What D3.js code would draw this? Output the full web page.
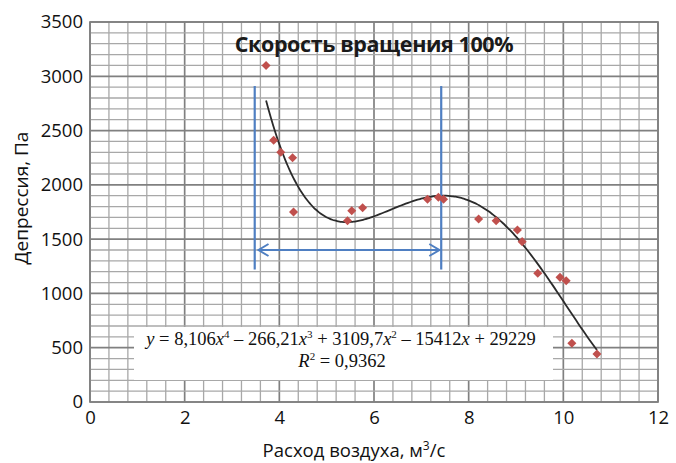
<!DOCTYPE html>
<html>
<head>
<meta charset="utf-8">
<script src="https://cdn.jsdelivr.net/npm/d3@7"></script>
<style>
  body { margin: 0; background: #fff; }
  svg { display: block; }
  .tick-label { font-family: "Open Sans", sans-serif; font-size: 18.5px; fill: #111; }
  .axis-title { font-family: "Open Sans", sans-serif; font-size: 18.5px; fill: #111; }
  .eq { font-family: "Liberation Serif", serif; font-size: 18.5px; fill: #111; }
</style>
</head>
<body>
<div id="chart"></div>
<script>
/*
 * Fan curve: air flow vs depression, speed 100%
 */

// measured points
var flowRate   = [3.72, 3.88, 4.03, 4.28, 4.30, 5.44, 5.53, 5.76, 7.13, 7.36, 7.47, 8.21, 8.58, 9.03, 9.13, 9.46, 9.93, 10.06, 10.18, 10.71];
var depression = [3100, 2410, 2300, 2250, 1750, 1670, 1762, 1790, 1867, 1885, 1867, 1685, 1670, 1585, 1477, 1185, 1148, 1117, 541, 442];

// polynomial trendline (4th order), highest power first
var trendCoefs = [8.106, -266.21, 3109.7, -15412, 29229];

var xTicks = [0, 2, 4, 6, 8, 10, 12];
var yTicks = [0, 500, 1000, 1500, 2000, 2500, 3000, 3500];

// working zone marks
var zoneX = [3.48, 7.42];
var zoneY = [1220, 2910];
var arrowX = [3.56, 7.38];
var arrowY = 1400;

var width = 676, height = 463;
var plot = { left: 90, right: 658, top: 22, bottom: 402 };

var svg = d3.select("#chart").append("svg").attr("width", width).attr("height", height);

var x = d3.scaleLinear().domain([0, 12]).range([plot.left, plot.right]);
var y = d3.scaleLinear().domain([0, 3500]).range([plot.bottom, plot.top]);

/*
 * Grid: minor every 0.4 / 100, major every 2 / 500
 */
var grid = svg.append("g");
var vMinor = d3.range(0, 30.001, 1).map(function(i){ return i * 0.4; });
var hMinor = d3.range(0, 3501, 100);

grid.selectAll(".vg").data(vMinor).enter().append("line")
  .attr("x1", function(d){ return x(d); }).attr("x2", function(d){ return x(d); })
  .attr("y1", plot.top).attr("y2", plot.bottom)
  .style("stroke", function(d, i){ return i % 5 == 0 ? "#808080" : "#a8a8a8"; })
  .style("stroke-width", function(d, i){ return i % 5 == 0 ? 1.7 : 1.3; });

grid.selectAll(".hg").data(hMinor).enter().append("line")
  .attr("x1", plot.left).attr("x2", plot.right)
  .attr("y1", function(d){ return y(d); }).attr("y2", function(d){ return y(d); })
  .style("stroke", function(d){ return d % 500 == 0 ? "#808080" : "#a8a8a8"; })
  .style("stroke-width", function(d){ return d % 500 == 0 ? 1.7 : 1.3; });

svg.append("rect")
  .attr("x", plot.left).attr("y", plot.top)
  .attr("width", plot.right - plot.left).attr("height", plot.bottom - plot.top)
  .style("fill", "none").style("stroke", "#808080").style("stroke-width", 1.7);

/*
 * Axes (labels only, Excel style)
 */
var xAxis = svg.append("g").attr("transform", "translate(0," + plot.bottom + ")")
  .call(d3.axisBottom(x).tickValues(xTicks).tickSize(0).tickPadding(9).tickFormat(d3.format("d")));
xAxis.select(".domain").remove();
xAxis.selectAll("text").attr("class", "tick-label").attr("font-family", null).attr("font-size", null);

var yAxis = svg.append("g").attr("transform", "translate(" + plot.left + ",0)")
  .call(d3.axisLeft(y).tickValues(yTicks).tickSize(0).tickPadding(7).tickFormat(d3.format("d")));
yAxis.select(".domain").remove();
yAxis.selectAll("text").attr("class", "tick-label").attr("font-family", null).attr("font-size", null);

var xTitle = svg.append("text").attr("class", "axis-title")
  .attr("x", 354).attr("y", 457).attr("text-anchor", "middle");
xTitle.append("tspan").text("Расход воздуха, м");
xTitle.append("tspan").attr("dy", -7).style("font-size", "12px").text("3");
xTitle.append("tspan").attr("dy", 7).text("/с");

svg.append("text").attr("class", "axis-title")
  .attr("transform", "translate(28,198) rotate(-90)").attr("text-anchor", "middle")
  .style("font-size", "19px")
  .text("Депрессия, Па");

/*
 * Trendline
 */
function poly(v){
  var r = 0;
  for(var i = 0; i < trendCoefs.length; i++){ r = r * v + trendCoefs[i]; }
  return r;
}
var xMin = d3.min(flowRate), xMax = d3.max(flowRate);
var trendPts = d3.range(xMin, xMax, 0.05).concat([xMax]);

svg.append("path").datum(trendPts)
  .attr("d", d3.line().x(function(d){ return x(d); }).y(function(d){ return y(poly(d)); }).curve(d3.curveMonotoneX))
  .style("fill", "none").style("stroke", "#2b2b2b").style("stroke-width", 1.8);

/*
 * Working zone: two vertical lines and double arrow
 */
var blue = "#4f7fc2";
var defs = svg.append("defs");
["arrowStart", "arrowEnd"].forEach(function(id, i){
  defs.append("marker").attr("id", id)
    .attr("viewBox", "-12 -7 14 14").attr("refX", 0).attr("refY", 0)
    .attr("markerWidth", 14).attr("markerHeight", 14).attr("markerUnits", "userSpaceOnUse")
    .attr("orient", i == 0 ? "auto-start-reverse" : "auto")
    .append("path").attr("d", "M-10,-6 L0,0 L-10,6")
    .style("fill", "none").style("stroke", blue).style("stroke-width", 2);
});

svg.selectAll(".zone").data(zoneX).enter().append("line")
  .attr("x1", function(d){ return x(d); }).attr("x2", function(d){ return x(d); })
  .attr("y1", y(zoneY[0])).attr("y2", y(zoneY[1]))
  .style("stroke", blue).style("stroke-width", 2.2);

svg.append("line")
  .attr("x1", x(arrowX[0])).attr("x2", x(arrowX[1]))
  .attr("y1", y(arrowY)).attr("y2", y(arrowY))
  .attr("marker-start", "url(#arrowStart)").attr("marker-end", "url(#arrowEnd)")
  .style("stroke", blue).style("stroke-width", 2);

/*
 * Points
 */
svg.selectAll(".pt").data(flowRate).enter().append("path")
  .attr("transform", function(d, i){ return "translate(" + x(d) + "," + y(depression[i]) + ")"; })
  .attr("d", d3.symbol().type(d3.symbolDiamond2).size(52))
  .style("fill", "#c0504d");

/*
 * Title and equation box
 */
svg.append("text")
  .attr("x", 374).attr("y", 52).attr("text-anchor", "middle")
  .style("font-family", "'Open Sans', sans-serif").style("font-weight", "bold").style("font-size", "21.5px")
  .style("letter-spacing", "-0.4px").style("fill", "#1a1a1a")
  .text("Скорость вращения 100%");

svg.append("rect").attr("x", 134).attr("y", 327).attr("width", 419).attr("height", 53).style("fill", "#fff");

var eq = svg.append("text").attr("class", "eq").attr("x", 341).attr("y", 345).attr("text-anchor", "middle");
var parts = [
  ["y", "i"], [" = 8,106", ""], ["x", "i"], ["4", "s"], [" – 266,21", ""], ["x", "i"], ["3", "s"],
  [" + 3109,7", ""], ["x", "i"], ["2", "s"], [" – 15412", ""], ["x", "i"], [" + 29229", ""]
];
var up = false;
parts.forEach(function(p){
  var t = eq.append("tspan").text(p[0]);
  if(p[1] == "i") t.style("font-style", "italic");
  if(p[1] == "s"){ t.attr("dy", -7).style("font-size", "11px"); up = true; }
  else if(up){ t.attr("dy", 7); up = false; }
});

var r2 = svg.append("text").attr("class", "eq").attr("x", 342).attr("y", 367).attr("text-anchor", "middle");
r2.append("tspan").style("font-style", "italic").text("R");
r2.append("tspan").attr("dy", -7).style("font-size", "11px").text("2");
r2.append("tspan").attr("dy", 7).text(" = 0,9362");
</script>
</body>
</html>
